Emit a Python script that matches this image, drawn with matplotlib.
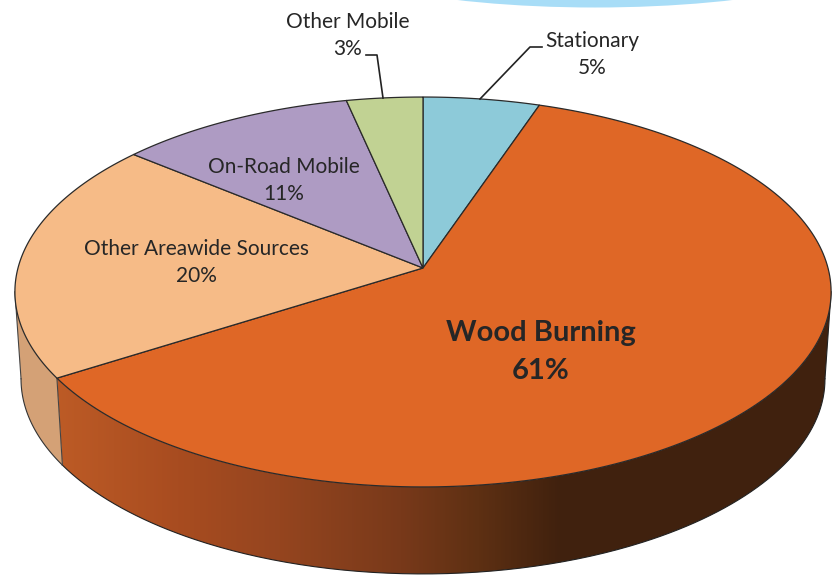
import matplotlib
matplotlib.use('Agg')
import matplotlib.pyplot as plt
import numpy as np
from matplotlib.patches import Polygon, Ellipse
from matplotlib.colors import LinearSegmentedColormap

plt.rcParams['font.family'] = ['Lato', 'DejaVu Sans']

names = ['Stationary', 'Wood Burning', 'Other Areawide Sources', 'On-Road Mobile', 'Other Mobile']
values = [5.2, 60.8, 20, 10.6, 3.4]
top_colors = ['#8DCAD9', '#DF6726', '#F6BB87', '#AE9BC3', '#C1D293']
label_pos = [(592, 41), (541, 333), (196, 249), (284, 167), (348, 22)]
label_gap = [27, 38, 27, 27, 27]

cx, cy = 423, 268
rx, ry, persp = 405, 192, 0.123
depth = 87
scale_low = 0.985


def project(theta, scale=1.0, dy=0):
    u, v = np.sin(theta), np.cos(theta)
    w = 1 + persp * v
    return cx + scale * rx * u / w, cy + dy - ry * v / w


fig = plt.figure(figsize=(8.38, 5.75), dpi=100)
ax = fig.add_axes([0, 0, 1, 1])

# blue shape cut off by the top of the page
ax.add_patch(Ellipse((595, -59.5), 600, 134, color='#A8DDF7', lw=0))

edges = np.cumsum([0] + values) / sum(values) * 2 * np.pi
wood_end = edges[2]

# side wall of the wood burning slice, shaded along x
shade = LinearSegmentedColormap.from_list('side', [(0, '#BE5C26'), (0.25, '#A84C20'), (0.45, '#95451F'),
                                                   (0.69, '#78391A'), (0.84, '#5E3013'), (1, '#40210E')])
t = np.linspace(np.radians(97), wood_end, 300)
xt, yt = project(t)
xb, yb = project(t, scale_low, depth)
wall = Polygon(np.r_[np.c_[xt, yt], np.c_[xb, yb][::-1]], facecolor='none', edgecolor='none')
ax.add_patch(wall)
grad = np.linspace(0, 1, 510).reshape(1, -1)
im = ax.imshow(grad, extent=(50, 560, 575, 0), cmap=shade, aspect='auto', zorder=1)
im2 = ax.imshow(np.ones((1, 2)), extent=(560, 838, 575, 0), cmap=shade, vmin=0, vmax=1, aspect='auto', zorder=1)
im.set_clip_path(wall)
im2.set_clip_path(wall)
ax.plot(xb, yb, color='#222222', lw=0.8, zorder=2)
ax.plot([xt[0], xb[0]], [yt[0], yb[0]], color='#222222', lw=0.8, zorder=2)

# side wall of the areawide slice
t2 = np.linspace(wood_end, np.radians(263), 100)
xt2, yt2 = project(t2)
xb2, yb2 = project(t2, scale_low, depth)
ax.add_patch(Polygon(np.r_[np.c_[xt2, yt2], np.c_[xb2, yb2][::-1]], facecolor='#D4A176', edgecolor='none', zorder=1.5))
ax.plot(xb2, yb2, color='#333333', lw=0.8, zorder=2)
ax.plot([xt2[0], xb2[0]], [yt2[0], yb2[0]], color='#444444', lw=0.8, zorder=2)
ax.plot([xt2[-1], xb2[-1]], [yt2[-1], yb2[-1]], color='#444444', lw=0.8, zorder=2)

# top face
for i in range(len(values)):
    th = np.linspace(edges[i], edges[i + 1], 200)
    x, y = project(th)
    pts = np.r_[[(cx, cy)], np.c_[x, y]]
    ax.add_patch(Polygon(pts, closed=True, facecolor=top_colors[i], edgecolor='#2A2A2A', lw=0.9, zorder=3))

# leader lines
ax.plot([366, 377, 383], [55, 55, 98], color='#222222', lw=1.2, zorder=4)
ax.plot([542, 530, 480], [47, 47, 99], color='#222222', lw=1.2, zorder=4)

# labels
for i, name in enumerate(names):
    lx, ly = label_pos[i]
    bold = name == 'Wood Burning'
    size = 21 if bold else 15
    weight = 'bold' if bold else 'normal'
    ax.text(lx, ly, name, ha='center', va='center', fontsize=size, fontweight=weight, color='#262626', zorder=5)
    ax.text(lx, ly + label_gap[i], '%.0f%%' % values[i], ha='center', va='center', fontsize=size,
            fontweight=weight, color='#262626', zorder=5)

ax.set_xlim(0, 838)
ax.set_ylim(575, 0)
ax.axis('off')

fig.savefig('out.png', dpi=100)
